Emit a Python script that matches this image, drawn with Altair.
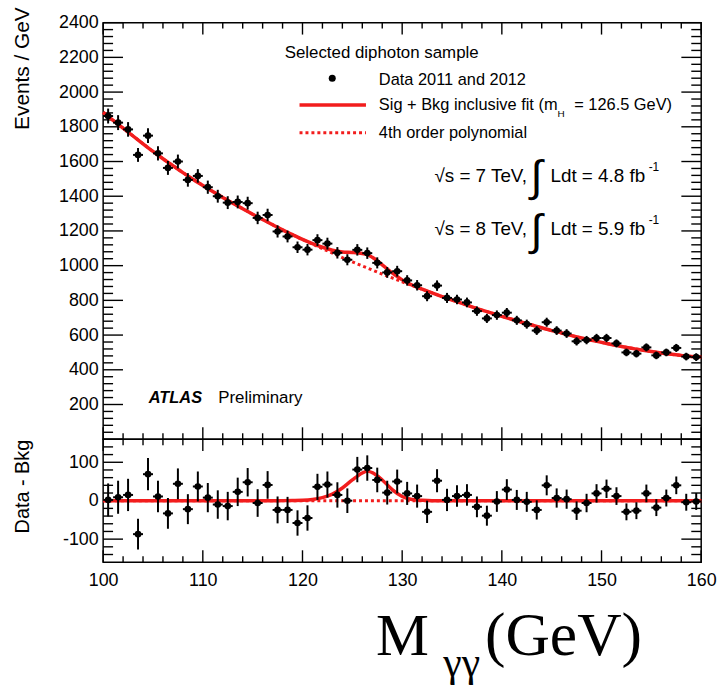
import altair as alt
import pandas as pd

SANS = "Liberation Sans"
SERIF = "Liberation Serif"
RED = "#f21d1d"

# ---------------- data ----------------
mass = [100.5 + i for i in range(60)]  # 1 GeV bin centres
events = [1862, 1824, 1785, 1638, 1749, 1647, 1563, 1600, 1494, 1517,
          1452, 1400, 1363, 1367, 1360, 1275, 1292, 1197, 1168, 1106,
          1092, 1147, 1127, 1074, 1034, 1091, 1072, 1016, 961, 968,
          915, 887, 824, 885, 814, 805, 788, 738, 696, 715,
          729, 685, 663, 626, 674, 626, 609, 564, 571, 583,
          583, 552, 500, 493, 529, 483, 500, 526, 476, 473]
residual = [2, 9, 15, -87, 69, 11, -33, 44, -22, 37,
            8, -10, -14, 23, 48, -6, 41, -24, -24, -58,
            -45, 36, 42, 15, 0, 81, 85, 54, 21, 50,
            19, 12, -29, 52, 2, 12, 15, -16, -39, -2,
            29, 2, -3, -24, 40, 7, 4, -26, -6, 19,
            31, 12, -29, -26, 19, -18, 7, 40, -4, -2]
errors = [43, 43, 42, 40, 42, 41, 40, 40, 39, 39,
          38, 37, 37, 37, 37, 36, 36, 35, 34, 33,
          33, 34, 34, 33, 32, 33, 33, 32, 31, 31,
          30, 30, 29, 30, 29, 28, 28, 27, 26, 27,
          27, 26, 26, 25, 26, 25, 25, 24, 24, 24,
          24, 23, 22, 22, 23, 22, 22, 23, 22, 22]

fit_mass = [100, 101, 102, 103, 104, 105, 106, 107, 108, 109,
            110, 111, 112, 113, 114, 115, 116, 117, 118, 119,
            120, 121, 122, 123, 124, 125, 126, 126.5, 127, 128, 129,
            130, 131, 132, 133, 134, 135, 136, 137, 138, 139,
            140, 141, 142, 143, 144, 145, 146, 147, 148, 149,
            150, 151, 152, 153, 154, 155, 156, 157, 158, 159, 160]
fit_bkg = [1883, 1837, 1792, 1747, 1702, 1658, 1616, 1576, 1536, 1498,
           1462, 1427, 1393, 1360, 1328, 1296, 1266, 1236, 1206, 1178,
           1150, 1124, 1098, 1072, 1046, 1022, 998, 987, 975, 951, 929,
           907, 885, 864, 843, 822, 802, 783, 763, 744, 726,
           708, 691, 674, 658, 642, 626, 612, 597, 583, 570,
           558, 546, 534, 524, 514, 505, 497, 489, 483, 477, 473]
fit_sig = [0, 0, 0, 0, 0, 0, 0, 0, 0, 0,
           0, 0, 0, 0, 0, 0, 0, 0, 0.2, 0.5,
           1, 3, 8, 17, 33, 54, 72, 77, 73, 54, 29,
           11, 3, 1, 0, 0, 0, 0, 0, 0, 0,
           0, 0, 0, 0, 0, 0, 0, 0, 0, 0,
           0, 0, 0, 0, 0, 0, 0, 0, 0, 0, 0]

x_tick_labels = [100, 110, 120, 130, 140, 150, 160]
y_top_labels = [200, 400, 600, 800, 1000, 1200, 1400, 1600, 1800, 2000, 2200, 2400]
y_bot_labels = [-100, 0, 100]

# ---------------- tables ----------------
df = pd.DataFrame({"mass": mass, "events": events, "res": residual, "err": errors})
df["ev_lo"] = df["events"] - df["err"]
df["ev_hi"] = df["events"] + df["err"]
df["res_lo"] = df["res"] - df["err"]
df["res_hi"] = df["res"] + df["err"]
df["m_lo"] = df["mass"] - 0.5
df["m_hi"] = df["mass"] + 0.5

fit = pd.DataFrame({"mass": fit_mass, "bkg": fit_bkg, "sig": fit_sig})
fit["sb"] = fit["bkg"] + fit["sig"]
fit["zero"] = fit["bkg"] - fit["bkg"]

one = pd.DataFrame({"k": [0]})

W, H1, H2 = 603, 420, 124

xscale = alt.Scale(domain=[100, 160], nice=False, zero=False)
ytop = alt.Scale(domain=[0, 2400], nice=False, zero=False)
ybot = alt.Scale(domain=[-160, 160], nice=False, zero=False)

yaxis_top = alt.Axis(values=y_top_labels, labelExpr="'' + datum.value",
                     labelFont=SANS, labelFontSize=18, labelColor="black",
                     labelPadding=5, ticks=False, tickSize=0, domain=False, grid=False,
                     labelFlush=False, labelOverlap=False,
                     title="Events / GeV", titleFont=SANS, titleFontSize=21,
                     titleFontWeight="normal", titleColor="black", titleAngle=270,
                     titleAlign="right", titleBaseline="middle", titleX=-81, titleY=-16)
yaxis_bot = alt.Axis(values=y_bot_labels, labelExpr="'' + datum.value",
                     labelFont=SANS, labelFontSize=18, labelColor="black",
                     labelPadding=5, ticks=False, tickSize=0, domain=False, grid=False,
                     labelFlush=False, labelOverlap=False,
                     title="Data - Bkg", titleFont=SANS, titleFontSize=20,
                     titleFontWeight="normal", titleColor="black", titleAngle=270,
                     titleAlign="right", titleBaseline="middle", titleX=-81, titleY=0)
xaxis_bot = alt.Axis(values=x_tick_labels, labelFont=SANS, labelFontSize=18,
                     labelColor="black", labelPadding=10, ticks=False, tickSize=0,
                     domain=False, grid=False, labelFlush=False, labelOverlap=False,
                     title=None)


def y_tick_layers(major, minor, scale, axis, height):
    out = []
    for vals, ln in ((major, 20), (minor, 10)):
        d = pd.DataFrame({"v": vals})
        base = alt.Chart(d).mark_rule(color="black", strokeWidth=1.4)
        out.append(base.encode(y=alt.Y("v:Q", scale=scale, axis=axis),
                               x=alt.value(0), x2=alt.value(ln)))
        out.append(base.encode(y=alt.Y("v:Q", scale=scale, axis=axis),
                               x=alt.value(W - ln), x2=alt.value(W)))
    return out


def x_tick_layers(axis, height):
    out = []
    major = list(range(100, 161, 10))
    minor = [v for v in range(102, 160, 2) if v % 10 != 0]
    for vals, ln in ((major, 12), (minor, 6)):
        d = pd.DataFrame({"v": vals})
        base = alt.Chart(d).mark_rule(color="black", strokeWidth=1.4)
        out.append(base.encode(x=alt.X("v:Q", scale=xscale, axis=axis),
                               y=alt.value(0), y2=alt.value(ln)))
        out.append(base.encode(x=alt.X("v:Q", scale=xscale, axis=axis),
                               y=alt.value(height - ln), y2=alt.value(height)))
    return out


def text(s, x, y, size, font=SANS, align="left", baseline="alphabetic", **kw):
    return alt.Chart(one).mark_text(text=s, align=align, baseline=baseline, font=font,
                                    fontSize=size, color="black", **kw).encode(
        x=alt.value(x), y=alt.value(y))


# ---------------- top panel ----------------
top_ticks = y_tick_layers(list(range(0, 2401, 200)),
                          [v for v in range(40, 2400, 40) if v % 200 != 0],
                          ytop, yaxis_top, H1) + x_tick_layers(None, H1)

bkg_line = alt.Chart(fit).mark_line(color=RED, strokeWidth=3, strokeDash=[3, 3]).encode(
    x=alt.X("mass:Q", scale=xscale, axis=None),
    y=alt.Y("bkg:Q", scale=ytop, axis=yaxis_top))
sb_line = alt.Chart(fit).mark_line(color=RED, strokeWidth=3.5, interpolate="monotone").encode(
    x=alt.X("mass:Q", scale=xscale, axis=None),
    y=alt.Y("sb:Q", scale=ytop, axis=yaxis_top))
ev_v = alt.Chart(df).mark_rule(color="black", strokeWidth=2).encode(
    x=alt.X("mass:Q", scale=xscale, axis=None),
    y=alt.Y("ev_lo:Q", scale=ytop, axis=yaxis_top), y2="ev_hi:Q")
ev_h = alt.Chart(df).mark_rule(color="black", strokeWidth=2).encode(
    x=alt.X("m_lo:Q", scale=xscale, axis=None), x2="m_hi:Q",
    y=alt.Y("events:Q", scale=ytop, axis=yaxis_top))
ev_p = alt.Chart(df).mark_circle(color="black", size=45, opacity=1).encode(
    x=alt.X("mass:Q", scale=xscale, axis=None),
    y=alt.Y("events:Q", scale=ytop, axis=yaxis_top))

legend = [
    text("Selected diphoton sample", 183, 36, 17),
    alt.Chart(one).mark_circle(color="black", size=50, opacity=1).encode(
        x=alt.value(231), y=alt.value(56)),
    text("Data 2011 and 2012", 278, 63, 16.5),
    alt.Chart(one).mark_rule(color=RED, strokeWidth=3.5).encode(
        x=alt.value(198), x2=alt.value(265), y=alt.value(83)),
    text("Sig + Bkg inclusive fit (m", 278, 88, 16.5),
    text("H", 458, 95, 10),
    text("= 126.5 GeV)", 475, 88, 16.5),
    alt.Chart(one).mark_rule(color=RED, strokeWidth=3, strokeDash=[3, 3]).encode(
        x=alt.value(198), x2=alt.value(265), y=alt.value(111)),
    text("4th order polynomial", 278, 116, 16.5),
    text("\u221As = 7 TeV,", 334, 161, 19),
    text("\u222B", 437, 157, 44, align="center", baseline="middle"),
    text("Ldt = 4.8 fb", 451, 161, 19),
    text("-1", 550, 150, 12),
    text("\u221As = 8 TeV,", 334, 214, 19),
    text("\u222B", 437, 211, 44, align="center", baseline="middle"),
    text("Ldt = 5.9 fb", 451, 214, 19),
    text("-1", 550, 203, 12),
    text("ATLAS", 46, 383, 16.5, fontStyle="italic", fontWeight="bold"),
    text("Preliminary", 116, 383, 17),
]

top = alt.layer(*top_ticks, bkg_line, sb_line, ev_v, ev_h, ev_p, *legend).properties(
    width=W, height=H1)

# ---------------- bottom panel ----------------
bot_ticks = y_tick_layers(y_bot_labels,
                          [v for v in range(-140, 141, 20) if v % 100 != 0],
                          ybot, yaxis_bot, H2) + x_tick_layers(xaxis_bot, H2)

zero_line = alt.Chart(fit).mark_line(color=RED, strokeWidth=3, strokeDash=[3, 3]).encode(
    x=alt.X("mass:Q", scale=xscale, axis=xaxis_bot),
    y=alt.Y("zero:Q", scale=ybot, axis=yaxis_bot))
sig_line = alt.Chart(fit).mark_line(color=RED, strokeWidth=3.5, interpolate="monotone").encode(
    x=alt.X("mass:Q", scale=xscale, axis=xaxis_bot),
    y=alt.Y("sig:Q", scale=ybot, axis=yaxis_bot))
res_v = alt.Chart(df).mark_rule(color="black", strokeWidth=2).encode(
    x=alt.X("mass:Q", scale=xscale, axis=xaxis_bot),
    y=alt.Y("res_lo:Q", scale=ybot, axis=yaxis_bot), y2="res_hi:Q")
res_h = alt.Chart(df).mark_rule(color="black", strokeWidth=2).encode(
    x=alt.X("m_lo:Q", scale=xscale, axis=xaxis_bot), x2="m_hi:Q",
    y=alt.Y("res:Q", scale=ybot, axis=yaxis_bot))
res_p = alt.Chart(df).mark_circle(color="black", size=45, opacity=1).encode(
    x=alt.X("mass:Q", scale=xscale, axis=xaxis_bot),
    y=alt.Y("res:Q", scale=ybot, axis=yaxis_bot))

xtitle = [
    text("M", 275, 218, 60, font=SERIF),
    text("\u03B3\u03B3", 343, 239, 42, font=SERIF),
    text("(GeV)", 385, 218, 62, font=SERIF),
]

bottom = alt.layer(*bot_ticks, zero_line, sig_line, res_v, res_h, res_p, *xtitle).properties(
    width=W, height=H2)

chart = alt.vconcat(top, bottom, spacing=0, bounds="flush").properties(
    padding={"left": 11, "top": 3, "right": 8, "bottom": 0}
).configure_view(stroke="black", strokeWidth=1.5)

chart.save("out.html", embed_options={"renderer": "svg", "actions": False})
